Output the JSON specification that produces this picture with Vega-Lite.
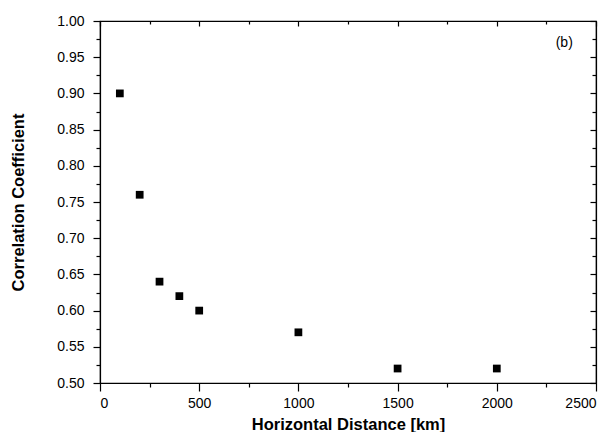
{
  "$schema": "https://vega.github.io/schema/vega-lite/v6.json",
  "width": 496,
  "height": 362,
  "autosize": {"type": "none"},
  "padding": {"left": 100, "top": 21, "right": 15, "bottom": 49},
  "background": "white",
  "config": {
    "view": {"stroke": "#000", "strokeWidth": 1.2},
    "axis": {
      "grid": false,
      "domain": true,
      "domainColor": "#000",
      "domainWidth": 1.2,
      "ticks": true,
      "tickColor": "#000",
      "tickWidth": 1.2,
      "labelColor": "#000",
      "labelFont": "Liberation Sans",
      "labelFontSize": 14,
      "titleFont": "Liberation Sans",
      "titleFontSize": 16.5,
      "titleFontWeight": "bold",
      "titleColor": "#000"
    }
  },
  "datasets": {
    "pts": [
      {"distance": 100, "corr": 0.90},
      {"distance": 200, "corr": 0.76},
      {"distance": 300, "corr": 0.64},
      {"distance": 400, "corr": 0.62},
      {"distance": 500, "corr": 0.60},
      {"distance": 1000, "corr": 0.57},
      {"distance": 1500, "corr": 0.52},
      {"distance": 2000, "corr": 0.52}
    ],
    "note": [{"distance": 2340, "corr": 0.97, "label": "(b)"}]
  },
  "layer": [
    {
      "data": {"name": "pts"},
      "mark": {"type": "square", "filled": true, "color": "#000", "size": 60, "opacity": 1},
      "encoding": {
        "x": {
          "field": "distance", "type": "quantitative",
          "scale": {"domain": [0, 2500], "nice": false},
          "axis": {
            "orient": "bottom",
            "title": "Horizontal Distance [km]",
            "values": [0, 250, 500, 750, 1000, 1250, 1500, 1750, 2000, 2250, 2500],
            "format": "d",
            "labelExpr": "datum.value % 500 === 0 ? datum.label : ''",
            "tickSize": {"condition": {"test": "datum.value % 500 !== 0", "value": 4}, "value": 8},
            "labelPadding": 5,
            "titlePadding": 6
          }
        },
        "y": {
          "field": "corr", "type": "quantitative",
          "scale": {"domain": [0.5, 1.0], "nice": false, "zero": false},
          "axis": {
            "orient": "left",
            "title": "Correlation Coefficient",
            "values": [0.5, 0.525, 0.55, 0.575, 0.6, 0.625, 0.65, 0.675, 0.7, 0.725, 0.75, 0.775, 0.8, 0.825, 0.85, 0.875, 0.9, 0.925, 0.95, 0.975, 1.0],
            "format": ".2f",
            "labelExpr": "round(datum.value * 1000) % 50 === 0 ? datum.label : ''",
            "tickSize": {"condition": {"test": "round(datum.value * 1000) % 50 !== 0", "value": 4}, "value": 7},
            "labelPadding": 9,
            "titlePadding": 30
          }
        }
      }
    },
    {
      "data": {"name": "pts"},
      "mark": {"type": "square", "opacity": 0},
      "encoding": {
        "x": {
          "field": "distance", "type": "quantitative",
          "scale": {"domain": [0, 2500], "nice": false},
          "axis": {
            "orient": "top",
            "title": null,
            "labels": false,
            "ticks": true,
            "domain": true,
            "values": [0, 250, 500, 750, 1000, 1250, 1500, 1750, 2000, 2250, 2500],
            "tickSize": {"condition": {"test": "datum.value % 500 !== 0", "value": -3}, "value": -5}
          }
        },
        "y": {
          "field": "corr", "type": "quantitative",
          "scale": {"domain": [0.5, 1.0], "nice": false, "zero": false},
          "axis": {
            "orient": "right",
            "title": null,
            "labels": false,
            "ticks": true,
            "domain": true,
            "values": [0.5, 0.525, 0.55, 0.575, 0.6, 0.625, 0.65, 0.675, 0.7, 0.725, 0.75, 0.775, 0.8, 0.825, 0.85, 0.875, 0.9, 0.925, 0.95, 0.975, 1.0],
            "tickSize": {"condition": {"test": "round(datum.value * 1000) % 50 !== 0", "value": -4}, "value": -6}
          }
        }
      }
    },
    {
      "data": {"name": "note"},
      "mark": {"type": "text", "font": "Liberation Sans", "fontSize": 14, "color": "#000"},
      "encoding": {
        "x": {"field": "distance", "type": "quantitative", "scale": {"domain": [0, 2500], "nice": false}, "axis": null},
        "y": {"field": "corr", "type": "quantitative", "scale": {"domain": [0.5, 1.0], "nice": false, "zero": false}, "axis": null},
        "text": {"field": "label"}
      }
    }
  ],
  "resolve": {
    "scale": {"x": "independent", "y": "independent"},
    "axis": {"x": "independent", "y": "independent"}
  }
}
